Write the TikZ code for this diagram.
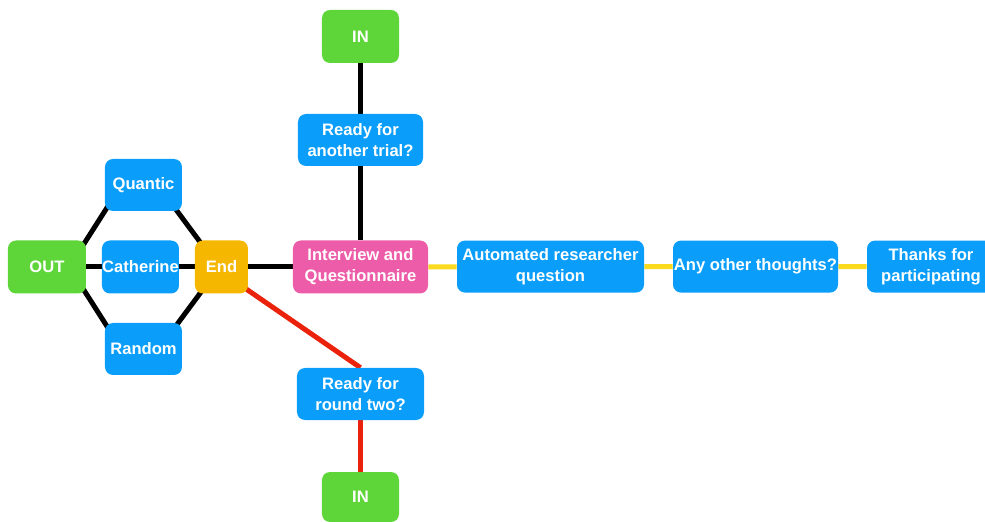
\documentclass[tikz,border=0pt]{standalone}
\usepackage{fontspec}
\setmainfont{Liberation Sans}
\usepackage{tikz}
\usetikzlibrary{calc,backgrounds}
\definecolor{flowGreen}{RGB}{94,214,58}
\definecolor{flowBlue}{RGB}{10,158,250}
\definecolor{flowOrange}{RGB}{245,183,0}
\definecolor{flowPink}{RGB}{236,92,168}
\definecolor{flowYellow}{RGB}{250,218,30}
\definecolor{flowRed}{RGB}{234,34,12}

\begin{document}
\begin{tikzpicture}[
  card/.style={rounded corners=0.2cm, inner sep=0pt, align=center, text=white,
    font=\fontsize{11.8}{14.9}\selectfont\bfseries, minimum height=1.3cm},
  gocard/.style={card, fill=flowGreen, minimum width=1.925cm, minimum height=1.325cm},
  askcard/.style={card, fill=flowBlue},
  link/.style={line width=0.125cm},
  slant/.style={link, shorten <=-0.2cm, shorten >=-0.2cm},
]
\useasboundingbox (-12.3125,-6.525) rectangle (12.3125,6.525);

% top branch
\node[gocard] (inTop) at (-3.3,5.6125) {IN};
\node[askcard, minimum width=3.125cm] (trial) at (-3.3,3.025) {Ready for\\another trial?};

% left hexagon
\node[gocard, minimum width=1.95cm] (out) at (-11.1375,-0.15) {OUT};
\node[askcard, minimum width=1.925cm] (quantic) at (-8.725,1.9) {Quantic};
\node[askcard, minimum width=1.925cm, minimum height=1.325cm] (catherine) at (-8.8,-0.15) {Catherine};
\node[askcard, minimum width=1.925cm] (random) at (-8.725,-2.2) {Random};
\node[card, fill=flowOrange, minimum width=1.325cm, minimum height=1.325cm] (endnode) at (-6.775,-0.15) {End};

% middle row
\node[card, fill=flowPink, minimum width=3.375cm, minimum height=1.325cm] (interview) at (-3.3,-0.15) {Interview and\\Questionnaire};
\node[askcard, minimum width=4.675cm] (automated) at (1.45,-0.14) {Automated researcher\\question};
\node[askcard, minimum width=4.125cm] (thoughts) at (6.575,-0.14) {Any other thoughts?};
\node[askcard, minimum width=3.2cm] (thanks) at (10.9625,-0.14) {Thanks for\\participating};

% bottom branch
\node[askcard, minimum width=3.175cm] (roundtwo) at (-3.3,-3.325) {Ready for\\round two?};
\node[gocard, minimum height=1.25cm] (inBottom) at (-3.3,-5.9) {IN};

\begin{scope}[on background layer]
\draw[link] (inTop) -- (trial) -- (interview);
\draw[link] (out) -- (catherine) -- (endnode) -- (interview);
\draw[slant] (out.north east) -- (quantic.south west);
\draw[slant] (out.south east) -- (random.north west);
\draw[slant] ([xshift=-0.125cm]quantic.south east) -- ([xshift=0.1cm]endnode.north west);
\draw[slant] ([xshift=-0.1cm]random.north east) -- ([xshift=0.125cm]endnode.south west);
\draw[link, flowYellow] (interview) -- (automated) -- (thoughts) -- (thanks);
\draw[link, flowRed] ([yshift=-0.125cm]endnode.center) -- (roundtwo.north);
\draw[link, flowRed] (roundtwo) -- (inBottom);
\end{scope}
\end{tikzpicture}
\end{document}
